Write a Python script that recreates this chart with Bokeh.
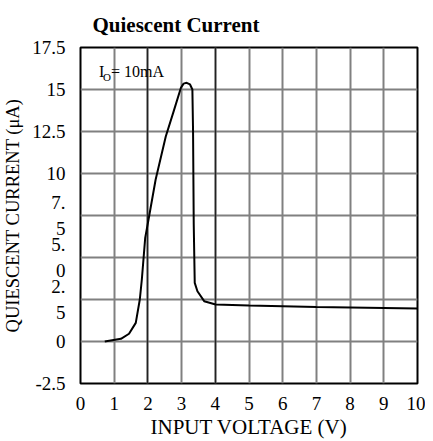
from bokeh.plotting import figure
from bokeh.models import Range1d, FixedTicker, Grid, Label
from bokeh.embed import file_html
from bokeh.resources import INLINE

# data
vin = [0.72, 1.2, 1.44, 1.64, 1.76, 1.82, 1.92, 2.04, 2.23, 2.53, 2.78, 2.98,
       3.06, 3.15, 3.25, 3.32, 3.34, 3.36, 3.39, 3.47, 3.67, 4.01, 5.0, 7.0, 10.0]
iq = [0.0, 0.16, 0.46, 1.11, 2.5, 3.69, 6.17, 7.5, 9.64, 12.2, 13.8, 15.1,
      15.35, 15.4, 15.3, 15.0, 12.5, 7.0, 3.49, 2.99, 2.4, 2.2, 2.14, 2.06, 1.96]
x_ticks = [0, 1, 2, 3, 4, 5, 6, 7, 8, 9, 10]
y_ticks = [-2.5, 0, 2.5, 5, 7.5, 10, 12.5, 15, 17.5]
y_tick_labels = {-2.5: "-2.5", 0: "0", 2.5: "2.\n5", 5: "5.\n0", 7.5: "7.\n5",
                 10: "10", 12.5: "12.5", 15: "15", 17.5: "17.5"}
dark_x = [2, 4]

FONT = "Liberation Serif"

p = figure(frame_width=337, frame_height=336, output_backend="svg", toolbar_location=None,
           x_range=Range1d(0, 10), y_range=Range1d(-2.5, 17.5),
           title="Quiescent Current",
           min_border_left=78, min_border_right=8, min_border_top=47, min_border_bottom=40)

p.title.text_font = FONT
p.title.text_font_size = "21px"
p.title.text_font_style = "bold"
p.title.text_color = "black"
p.title.offset = 12
p.title.standoff = 21

p.outline_line_color = "black"
p.outline_line_width = 2
p.background_fill_color = "white"

p.xaxis.ticker = FixedTicker(ticks=x_ticks)
p.yaxis.ticker = FixedTicker(ticks=y_ticks)
p.yaxis.major_label_overrides = y_tick_labels

for ax in (p.xaxis[0], p.yaxis[0]):
    ax.axis_line_color = None
    ax.major_tick_line_color = None
    ax.minor_tick_line_color = None
    ax.major_label_text_font = FONT
    ax.major_label_text_font_size = "19px"
    ax.major_label_text_color = "black"
    ax.axis_label_text_font = FONT
    ax.axis_label_text_font_style = "normal"
    ax.axis_label_text_color = "black"

p.xaxis.axis_label = "INPUT VOLTAGE (V)"
p.yaxis.axis_label = "QUIESCENT CURRENT (\u03bcA)"
p.xaxis.axis_label_text_font_size = "21px"
p.yaxis.axis_label_text_font_size = "18.5px"
p.xaxis.major_label_standoff = 7
p.yaxis.major_label_standoff = 9
p.xaxis.axis_label_standoff = 2
p.yaxis.axis_label_standoff = 6

p.xgrid.grid_line_color = "#808080"
p.xgrid.grid_line_width = 2
p.ygrid.grid_line_color = "#808080"
p.ygrid.grid_line_width = 2

dark = Grid(dimension=0, ticker=FixedTicker(ticks=dark_x),
            grid_line_color="#222222", grid_line_width=1.5)
p.add_layout(dark)

p.line(vin, iq, line_color="black", line_width=2)

p.add_layout(Label(x=0.55, y=16.07, text="I", text_font=FONT, text_color="black",
                   text_font_size="16px", text_baseline="alphabetic"))
p.add_layout(Label(x=0.55, y=16.07, x_offset=4, y_offset=-5, text="O", text_font=FONT,
                   text_color="black", text_font_size="11px", text_baseline="alphabetic"))
p.add_layout(Label(x=0.55, y=16.07, x_offset=12, text="= 10mA", text_font=FONT,
                   text_color="black", text_font_size="16px", text_baseline="alphabetic"))

open("out.html", "w").write(file_html(p, INLINE))
